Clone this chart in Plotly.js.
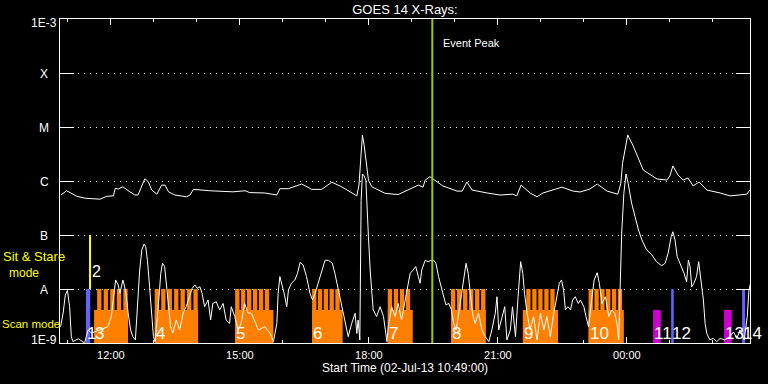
<!DOCTYPE html>
<html><head><meta charset="utf-8">
<script src="https://cdn.plot.ly/plotly-3.0.1.min.js"></script>
<style>html,body{margin:0;padding:0;background:#000;}#chart{width:768px;height:384px;}</style>
</head><body><div id="chart"></div>
<script>
// Times are hours after 00:00 on 02-Jul-2013 (values > 24 fall on 03-Jul)
const START_H = 10.8167, END_H = 26.864;
const EVENT_PEAK_H = 19.475;

// GOES 14 long channel (1-8 A), W/m^2
const longH = [10.84,10.97,11.21,11.40,11.75,11.90,12.06,12.10,12.17,12.28,
  12.44,12.56,12.63,12.72,12.79,12.87,12.95,13.07,13.18,13.26,
  13.34,13.49,13.76,13.84,13.92,14.30,14.84,15.12,15.23,15.58,
  15.86,15.93,16.13,16.44,16.67,16.90,17.14,17.37,17.60,17.72,
  17.77,17.81,17.85,17.89,17.93,17.99,18.07,18.22,18.38,18.68,
  18.92,19.15,19.26,19.31,19.42,19.72,20.05,20.17,20.28,20.40,
  20.75,21.05,21.35,21.44,21.54,21.75,21.91,22.05,22.49,22.75,
  22.91,23.14,23.31,23.54,23.79,23.86,23.90,23.96,24.02,24.14,
  24.38,24.70,24.93,25.00,25.07,25.19,25.31,25.42,25.54,25.68,
  25.86,26.17,26.40,26.79,26.86];
const longFlux = [5.5e-7,6.6e-7,5.2e-7,4.8e-7,4.6e-7,5.2e-7,5.3e-7,7.3e-7,7.1e-7,7.8e-7,
  6.3e-7,5.5e-7,5.5e-7,7.8e-7,1.1e-6,9.7e-7,6.8e-7,5.7e-7,8.4e-7,8.4e-7,
  6.3e-7,5.5e-7,5.1e-7,5.5e-7,7.0e-7,6.6e-7,6.3e-7,6.6e-7,6.1e-7,6.0e-7,
  5.5e-7,7.2e-7,7.2e-7,8.8e-7,7.0e-7,7.0e-7,9.5e-7,7.8e-7,5.9e-7,5.3e-7,
  8.4e-7,2.45e-6,7.1e-6,4.6e-6,2.45e-6,1.04e-6,7.8e-7,6.8e-7,5.9e-7,5.6e-7,
  6.8e-7,8.4e-7,7.7e-7,1.04e-6,1.2e-6,8.1e-7,6.5e-7,6.5e-7,9.6e-7,6.8e-7,
  6.0e-7,5.5e-7,5.7e-7,5.3e-7,8.4e-7,6.0e-7,5.1e-7,6.0e-7,7.7e-7,6.5e-7,
  6.25e-7,7.1e-7,8.8e-7,6.5e-7,5.7e-7,9.1e-7,2.13e-6,3.75e-6,7.1e-6,4.6e-6,
  1.6e-6,1.09e-6,1.04e-6,1.24e-6,1.9e-6,1.29e-6,1.04e-6,1.14e-6,8.1e-7,9.6e-7,
  6.8e-7,6.0e-7,5.3e-7,5.7e-7,6.8e-7];

// GOES 14 short channel (0.5-4 A), W/m^2
const shortH = [10.83,10.89,10.94,10.99,11.04,11.08,11.12,11.24,11.39,11.47,
  11.55,11.74,11.93,12.01,12.07,12.11,12.17,12.21,12.28,12.32,
  12.36,12.40,12.46,12.51,12.57,12.61,12.67,12.72,12.77,12.81,
  12.85,12.90,12.94,12.99,13.03,13.08,13.12,13.16,13.20,13.25,
  13.29,13.33,13.39,13.44,13.52,13.60,13.68,13.75,13.83,13.89,
  13.95,14.01,14.07,14.12,14.18,14.26,14.32,14.37,14.45,14.53,
  14.61,14.68,14.76,14.80,14.88,14.96,15.03,15.11,15.19,15.27,
  15.43,15.58,15.70,15.78,15.86,15.89,15.93,15.99,16.03,16.09,
  16.13,16.20,16.28,16.34,16.40,16.47,16.55,16.63,16.69,16.75,
  16.82,16.90,16.98,17.06,17.15,17.21,17.29,17.37,17.44,17.52,
  17.60,17.68,17.72,17.75,17.79,17.82,17.85,17.89,17.93,17.95,
  17.99,18.03,18.07,18.10,18.18,18.26,18.34,18.38,18.42,18.45,
  18.53,18.61,18.68,18.76,18.84,18.90,18.96,19.03,19.09,19.15,
  19.19,19.23,19.31,19.38,19.44,19.51,19.56,19.62,19.68,19.74,
  19.79,19.86,19.92,19.97,20.03,20.09,20.15,20.21,20.26,20.31,
  20.36,20.41,20.47,20.55,20.63,20.71,20.79,20.86,20.94,20.98,
  21.02,21.10,21.16,21.21,21.29,21.34,21.41,21.47,21.50,21.53,
  21.58,21.62,21.68,21.75,21.83,21.91,21.99,22.07,22.14,22.22,
  22.30,22.38,22.43,22.48,22.53,22.57,22.63,22.69,22.74,22.80,
  22.87,22.92,23.00,23.05,23.11,23.19,23.24,23.31,23.36,23.42,
  23.50,23.58,23.65,23.72,23.77,23.81,23.84,23.88,23.93,23.98,
  24.03,24.11,24.19,24.27,24.35,24.46,24.58,24.69,24.81,24.89,
  24.96,25.03,25.07,25.12,25.17,25.25,25.33,25.39,25.43,25.47,
  25.51,25.56,25.62,25.67,25.72,25.78,25.82,25.86,25.93,26.01,
  26.09,26.17,26.28,26.40,26.48,26.56,26.63,26.73,26.80,26.84,
  26.88];
const shortFlux = [2.0e-9,3.6e-9,7.7e-9,9.4e-9,4.7e-9,1.3e-9,1.06e-9,1.2e-9,1.0e-9,1.74e-9,
  1.53e-9,1.74e-9,2.0e-9,3.1e-9,7.2e-9,1.47e-8,1.19e-8,8.3e-9,1.47e-8,1.1e-8,
  7.2e-9,3.6e-9,1.74e-9,1.31e-9,1.14e-9,4.1e-9,2.25e-8,5.3e-8,6.8e-8,6.1e-8,
  3.4e-8,1.1e-8,4.1e-9,1.31e-9,1.06e-9,2.67e-9,7.2e-9,1.95e-8,3.0e-8,2.6e-8,
  1.28e-8,4.7e-9,2.0e-9,1.53e-9,2.67e-9,1.74e-9,3.6e-9,4.7e-9,7.2e-9,1.03e-8,
  1.19e-8,1.03e-8,1.1e-8,8.3e-9,4.7e-9,6.25e-9,2.67e-9,5.4e-9,5.8e-9,4.1e-9,
  5.4e-9,2.67e-9,2.3e-9,4.7e-9,3.1e-9,1.74e-9,2.3e-9,5.4e-9,3.6e-9,3.55e-9,
  1.74e-9,2.0e-9,1.53e-9,1.06e-9,2.3e-9,8.3e-9,1.7e-8,1.1e-8,8.3e-9,4.7e-9,
  9.6e-9,1.28e-8,1.47e-8,1.95e-8,3.1e-8,2.8e-8,1.7e-8,8.3e-9,6.25e-9,8.3e-9,
  1.28e-8,2.25e-8,3.4e-8,3.4e-8,3.0e-8,1.95e-8,9.6e-9,4.7e-9,2.67e-9,1.31e-9,
  2.3e-9,3.55e-9,1.5e-9,2.67e-9,1.14e-9,4.4e-7,1.35e-6,1.24e-6,1.04e-6,3.9e-7,
  9.3e-8,2.25e-8,8.3e-9,4.1e-9,3.1e-9,4.7e-9,3.1e-9,1.74e-9,1.06e-9,2.0e-9,
  4.7e-9,3.1e-9,5.4e-9,2.67e-9,6.25e-9,1.1e-8,1.95e-8,2.25e-8,2.6e-8,1.7e-8,
  1.28e-8,2.25e-8,3.4e-8,3.2e-8,3.4e-8,3.4e-8,3.0e-8,1.7e-8,1.1e-8,7.7e-9,
  5.1e-9,5.4e-9,4.1e-9,2.3e-9,1.74e-9,3.55e-9,7.2e-9,1.7e-8,3.0e-8,1.95e-8,
  7.2e-9,3.55e-9,2.3e-9,3.55e-9,1.74e-9,1.31e-9,1.06e-9,1.74e-9,3.55e-9,7.2e-9,
  1.74e-9,3.1e-9,4.7e-9,1.14e-9,1.74e-9,4.7e-9,1.31e-9,7.2e-9,1.95e-8,3.2e-8,
  1.95e-8,8.3e-9,3.55e-9,1.74e-9,3.1e-9,1.14e-9,3.55e-9,1.74e-9,3.1e-9,1.31e-9,
  3.55e-9,7.2e-9,1.28e-8,1.47e-8,9.6e-9,4.1e-9,4.7e-9,4.1e-9,6.25e-9,7.2e-9,
  5.4e-9,6.25e-9,4.7e-9,3.1e-9,2.0e-9,7.2e-9,1.47e-8,2.0e-8,1.28e-8,5.4e-9,
  7.2e-9,3.1e-9,4.1e-9,3.55e-9,2.3e-9,1.14e-9,1.28e-8,1.09e-7,5.9e-7,1.35e-6,
  9.1e-7,3.9e-7,2.2e-7,1.24e-7,8.1e-8,5.3e-8,4.3e-8,3.2e-8,2.7e-8,3.0e-8,
  4.6e-8,9.3e-8,1.15e-7,8.1e-8,4.0e-8,2.8e-8,1.95e-8,1.36e-8,3.4e-8,2.6e-8,
  1.1e-8,1.28e-8,1.7e-8,3.2e-8,1.47e-8,6.25e-9,2.3e-9,1.5e-9,1.14e-9,1.22e-9,
  1.06e-9,1.22e-9,1.14e-9,1.31e-9,1.6e-9,1.22e-9,1.74e-9,1.14e-9,3.1e-9,9.6e-9,
  1.3e-8];

// Scan-mode observations (orange): whole block and rasters
const scanLabel   = ["3","4","5","6","7","8","9","10"];
const scanStart   = [11.61,13.02,14.89,16.68,18.44,19.91,21.58,23.11];
const scanEnd     = [12.40,14.03,15.78,17.39,19.02,20.72,22.40,23.93];
const rasterStart = [11.68,13.02,14.89,16.68,18.44,19.91,21.66,23.11];
const rasterEnd   = [12.39,14.02,15.68,17.32,18.96,20.71,22.32,23.89];
const rasterCount = [5,7,6,5,4,6,5,6];
const RASTER_LEN = 0.10;

// Short scan observations (magenta)
const magLabel = ["11","13"];
const magStart = [24.61,26.26];
const magEnd   = [24.79,26.44];
// Blue observations
const blueLabel = ["1","12","14"];
const blueStart = [11.42,25.03,26.68];
const blueEnd   = [11.52,25.09,26.75];
// Sit & stare observation (yellow)
const sitLabel = "2";
const sitH = 11.515;

// Level bands
const FLOOR = 1e-9, SCAN_LOW = 4.1e-9, SCAN_HIGH = 1e-8, SIT_LOW = 1e-8, SIT_HIGH = 1e-7;
const yTickVals = [1e-9,1e-8,1e-7,1e-6,1e-5,1e-4,1e-3];
const yTickText = ["1E-9","A","B","C","M","X","1E-3"];

function toDate(h){
  const ms = Date.UTC(2013,6,2,0,0,0) + Math.round(h*3600000);
  return new Date(ms).toISOString().slice(0,19).replace('T',' ');
}
function rects(x0s,x1s,lo,hi){
  const xs=[],ys=[];
  for(let i=0;i<x0s.length;i++){
    const a=toDate(x0s[i]), b=toDate(x1s[i]);
    xs.push(a,a,b,b,a,null); ys.push(lo,hi,hi,lo,lo,null);
  }
  return {x:xs,y:ys};
}
function rectTrace(r,color){
  return {type:'scatter',mode:'lines',x:r.x,y:r.y,fill:'toself',fillcolor:color,
    line:{width:0,color:color},hoverinfo:'skip',connectgaps:false};
}

// raster positions
const rStarts=[], rEnds=[];
for(let g=0; g<scanStart.length; g++){
  const n=rasterCount[g];
  const step = n>1 ? (rasterEnd[g]-rasterStart[g]-RASTER_LEN)/(n-1) : 0;
  for(let k=0;k<n;k++){ const s=rasterStart[g]+k*step; rStarts.push(s); rEnds.push(s+RASTER_LEN); }
}

const ORANGE='#ff8000', BLUE='#6262ff', MAGENTA='#cc00cc', YELLOW='#ffff00', GREEN='#99cc00';

const traces = [
  rectTrace(rects(scanStart,scanEnd,FLOOR,SCAN_LOW),ORANGE),
  rectTrace(rects(rStarts,rEnds,FLOOR,SCAN_HIGH),ORANGE),
  rectTrace(rects(magStart,magEnd,FLOOR,SCAN_LOW),MAGENTA),
  rectTrace(rects(blueStart,blueEnd,FLOOR,SCAN_HIGH),BLUE),
  {type:'scatter',mode:'lines',x:[toDate(sitH),toDate(sitH)],y:[SIT_LOW,SIT_HIGH],line:{color:YELLOW,width:2},hoverinfo:'skip'},
  {type:'scatter',mode:'lines',x:longH.map(toDate),y:longFlux,line:{color:'#fff',width:1},hoverinfo:'skip'},
  {type:'scatter',mode:'lines',x:shortH.map(toDate),y:shortFlux,line:{color:'#fff',width:1},hoverinfo:'skip'},
  {type:'scatter',mode:'lines',x:[toDate(EVENT_PEAK_H),toDate(EVENT_PEAK_H)],y:[1e-9,1e-3],line:{color:GREEN,width:2},hoverinfo:'skip'}
];

const FAM = 'Liberation Sans, Arial, sans-serif';
const labelFont = {family:FAM, size:17, color:'#fff'};
const annotations = [];
const allLabels = [].concat(
  blueLabel.map((t,i)=>({t:t,h:blueStart[i]})),
  scanLabel.map((t,i)=>({t:t,h:scanStart[i]})),
  magLabel.map((t,i)=>({t:t,h:magStart[i]})));
allLabels.forEach(o=>{
  annotations.push({text:o.t,x:toDate(o.h),xref:'x',xanchor:'left',xshift:0,
    y:0,yref:'paper',yanchor:'bottom',yshift:-1,showarrow:false,font:labelFont,borderpad:0});
});
// y-axis class labels, centred as in the original
const yLabelShift = [3,-1,-1,-1,-1,-1,-4];
yTickVals.forEach((v,i)=>{
  annotations.push({text:yTickText[i],x:(44-60)/690,xref:'paper',xanchor:'center',
    y:Math.log10(v),yref:'y',yanchor:'middle',yshift:yLabelShift[i],showarrow:false,
    font:{family:FAM,size:12,color:'#fff'},borderpad:0});
});
annotations.push({text:sitLabel,x:toDate(sitH),xref:'x',xanchor:'left',xshift:1,
  y:-7.667,yref:'y',yanchor:'middle',showarrow:false,font:{family:FAM,size:16,color:'#fff'},borderpad:0});
annotations.push({text:'Event Peak',x:toDate(EVENT_PEAK_H),xref:'x',xanchor:'left',xshift:9,
  y:(343-42.5)/324,yref:'paper',yanchor:'middle',showarrow:false,font:{size:11,color:'#fff'}});
annotations.push({text:'Sit & Stare',x:(34-60)/690,xref:'paper',xanchor:'center',
  y:(343-256.5)/324,yref:'paper',yanchor:'middle',showarrow:false,font:{size:13,color:YELLOW},borderpad:0});
annotations.push({text:'mode',x:(24.3-60)/690,xref:'paper',xanchor:'center',
  y:(343-272.5)/324,yref:'paper',yanchor:'middle',showarrow:false,font:{size:12,color:YELLOW},borderpad:0});
annotations.push({text:'Scan mode',x:(1-60)/690,xref:'paper',xanchor:'left',
  y:(343-323.5)/324,yref:'paper',yanchor:'middle',showarrow:false,font:{size:11.5,color:YELLOW},borderpad:0});
annotations.push({text:'Start Time (02-Jul-13 10:49:00)',x:0.5,xref:'paper',xanchor:'center',
  y:(343-367.5)/324,yref:'paper',yanchor:'middle',showarrow:false,font:{size:12,color:'#fff'}});

const layout = {
  width:768,height:384,paper_bgcolor:'#000',plot_bgcolor:'#000',
  margin:{l:60,r:18,t:19,b:41,pad:0},showlegend:false,
  font:{family:FAM,color:'#fff',size:11},
  title:{text:'GOES 14 X-Rays:',font:{size:13,color:'#fff'},x:0.5,xref:'paper',xanchor:'center',
    y:1-9.5/384,yref:'container',yanchor:'middle'},
  xaxis:{type:'date',range:[toDate(START_H),toDate(END_H)],tickformat:'%H:%M',
    tick0:'2013-07-02 00:00:00',dtick:10800000,ticks:'inside',ticklen:6,tickwidth:1,tickcolor:'#fff',
    minor:{dtick:3600000,tick0:'2013-07-02 00:00:00',ticks:'inside',ticklen:3,tickwidth:1,tickcolor:'#fff',showgrid:false},
    showline:true,linecolor:'#fff',linewidth:1,mirror:'ticks',showgrid:false,zeroline:false,
    tickfont:{size:11,color:'#fff'},ticklabelstandoff:2,layer:'below traces',fixedrange:true},
  yaxis:{type:'log',range:[-9,-3],tickvals:yTickVals,ticktext:yTickText,showticklabels:false,ticks:'inside',ticklen:14,
    tickwidth:1,tickcolor:'#fff',showline:true,linecolor:'#fff',linewidth:1,mirror:'ticks',
    showgrid:true,gridcolor:'#fff',griddash:'1px,5px',gridwidth:1,zeroline:false,fixedrange:true},
  annotations:annotations
};
Plotly.newPlot('chart',traces,layout,{staticPlot:true,displayModeBar:false});
</script></body></html>
